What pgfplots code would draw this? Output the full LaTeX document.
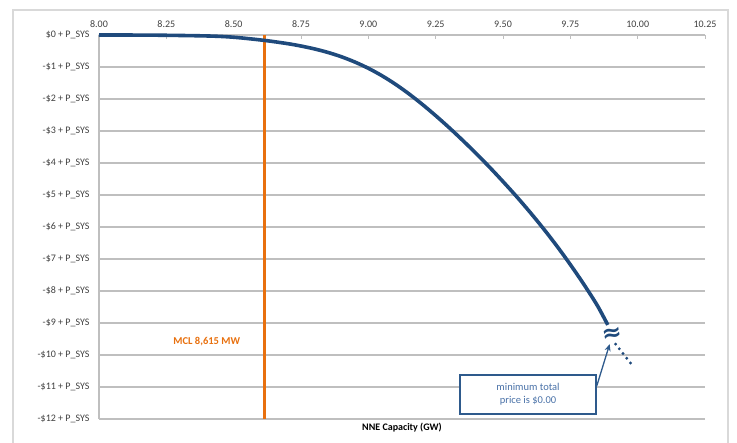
\documentclass[border=0pt]{standalone}
\usepackage{pgfplots}
\pgfplotsset{compat=1.18}
\usepackage{fontspec}
\setmainfont{Carlito}
\newfontfamily\dejavu{DejaVu Sans}
\usetikzlibrary{arrows.meta}
\definecolor{curveblue}{HTML}{1F4A7C}
\definecolor{mclorange}{HTML}{E8700E}
\definecolor{gridgray}{HTML}{BFBFBF}
\definecolor{framegray}{HTML}{D9D9D9}
\definecolor{boxblue}{HTML}{2E5A8C}
\definecolor{textblue}{HTML}{4A72A8}
\definecolor{labelgray}{HTML}{404040}

\pgfplotstableread{
x y
8.000 0
8.200 -0.005
8.400 -0.03
8.500 -0.07
8.615 -0.17
8.700 -0.27
8.750 -0.345
8.800 -0.435
8.850 -0.545
8.900 -0.68
8.950 -0.845
9.000 -1.04
9.050 -1.27
9.100 -1.535
9.150 -1.835
9.200 -2.165
9.250 -2.52
9.300 -2.895
9.350 -3.29
9.400 -3.70
9.450 -4.13
9.500 -4.58
9.550 -5.045
9.600 -5.535
9.650 -6.05
9.700 -6.595
9.750 -7.175
9.800 -7.79
9.850 -8.45
9.889 -9.06
}\curvedata

\begin{document}
\begin{tikzpicture}[x=1pt,y=1pt]
\useasboundingbox (0,0) rectangle (737,443);
\draw[framegray, line width=1.5pt] (13,-20) rectangle (728,433);
\begin{axis}[
  at={(99pt,24pt)}, anchor=south west,
  scale only axis, width=606pt, height=384pt,
  xmin=8, xmax=10.25, ymin=-12, ymax=0,
  axis x line*=top, axis y line*=left,
  xtick={8,8.25,8.5,8.75,9,9.25,9.5,9.75,10,10.25},
  xticklabels={8.00,8.25,8.50,8.75,9.00,9.25,9.50,9.75,10.00,10.25},
  ytick={-12,-11,-10,-9,-8,-7,-6,-5,-4,-3,-2,-1,0},
  yticklabels={{-\$12 + P\_SYS},{-\$11 + P\_SYS},{-\$10 + P\_SYS},{-\$9 + P\_SYS},{-\$8 + P\_SYS},{-\$7 + P\_SYS},{-\$6 + P\_SYS},{-\$5 + P\_SYS},{-\$4 + P\_SYS},{-\$3 + P\_SYS},{-\$2 + P\_SYS},{-\$1 + P\_SYS},{\$0 + P\_SYS}},
  ymajorgrids,
  grid style={gridgray, line width=1.2pt},
  axis line style={gridgray, line width=1.2pt},
  tick align=inside, major tick length=4pt,
  tick style={gridgray, line width=1pt},
  tick label style={font=\fontsize{10}{12}\selectfont, text=labelgray},
  yticklabel style={xshift=-6pt},
  xticklabel style={yshift=4pt},
  clip=false,
]
\addplot[mclorange, line width=2.6pt] coordinates {(8.615,0) (8.615,-12)};
\addplot[curveblue, line width=3.6pt, smooth, tension=0.5] table[x=x,y=y] {\curvedata};
\addplot[curveblue, line width=3.2pt, line cap=round, dash pattern=on 0pt off 6pt] coordinates {(9.918,-9.66) (9.979,-10.31)};
\node[rotate=10, text=curveblue, font=\dejavu\bfseries\fontsize{24}{24}\selectfont] at (axis cs:9.907,-9.36) {≈};
\node[text=mclorange, font=\bfseries\fontsize{10.5}{12}\selectfont] at (axis cs:8.40,-9.58) {MCL 8,615 MW};
\draw[boxblue, line width=1.5pt, fill=white] (axis cs:9.340,-10.62) rectangle (axis cs:9.846,-11.84);
\node[text=textblue, align=center, font=\fontsize{10.5}{13}\selectfont] at (axis cs:9.593,-11.23) {minimum total\\price is \$0.00};
\draw[boxblue, line width=1.3pt, -{Stealth[length=7pt,width=6pt]}] (axis cs:9.848,-10.97) -- (axis cs:9.896,-9.66);
\end{axis}
\node[font=\bfseries\fontsize{10}{12}\selectfont] at (402,15) {NNE Capacity (GW)};
\end{tikzpicture}
\end{document}
